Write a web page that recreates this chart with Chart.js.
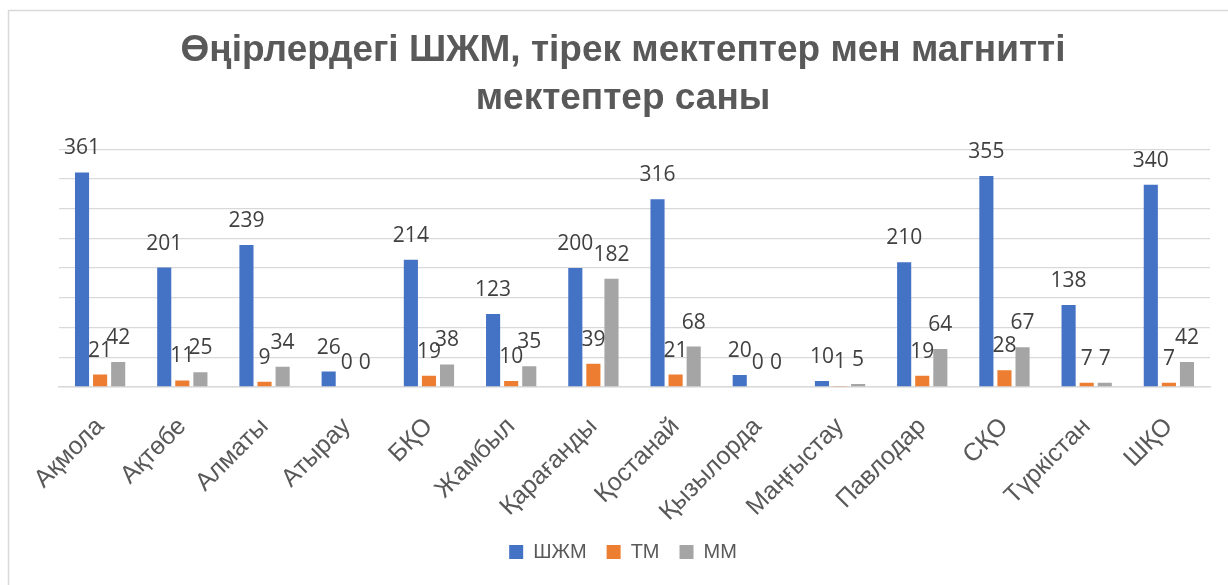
<!DOCTYPE html>
<html>
<head>
<meta charset="utf-8">
<script src="https://cdn.jsdelivr.net/npm/chart.js@4.4.1/dist/chart.umd.min.js"></script>
<style>
  html, body { margin: 0; padding: 0; background: #fff; }
  #wrap { width: 1228px; height: 585px; }
</style>
</head>
<body>
<div id="wrap"><canvas id="chart" width="1228" height="585"></canvas></div>
<script>
// регион аттары
const regions = ["Ақмола", "Ақтөбе", "Алматы", "Атырау", "БҚО", "Жамбыл", "Қарағанды",
  "Қостанай", "Қызылорда", "Маңғыстау", "Павлодар", "СҚО", "Түркістан", "ШҚО"];

const shzhm = [361, 201, 239, 26, 214, 123, 200, 316, 20, 10, 210, 355, 138, 340];
const tm = [21, 11, 9, 0, 19, 10, 39, 21, 0, 1, 19, 28, 7, 7];
const mm = [42, 25, 34, 0, 38, 35, 182, 68, 0, 5, 64, 67, 7, 42];

const seriesNames = ["ШЖМ", "ТМ", "ММ"];
const titleLines = ["Өңірлердегі ШЖМ, тірек мектептер мен магнитті", "мектептер саны"];

// сыртқы жиек
const framePlugin = {
  id: "frame",
  beforeDraw(chart) {
    const ctx = chart.ctx;
    ctx.save();
    ctx.fillStyle = "#fff";
    ctx.fillRect(0, 0, chart.width, chart.height);
    ctx.strokeStyle = "#d9d9d9";
    ctx.lineWidth = 1.5;
    ctx.strokeRect(8.5, 10.5, 1260, 620);
    ctx.restore();
  }
};

// бағандардың үстіндегі сандар
const valueLabels = {
  id: "valueLabels",
  afterDatasetsDraw(chart) {
    const ctx = chart.ctx;
    ctx.save();
    ctx.font = '21px "Open Sans"';
    ctx.fillStyle = "#404040";
    ctx.textAlign = "center";
    ctx.textBaseline = "alphabetic";
    chart.data.datasets.forEach((ds, i) => {
      chart.getDatasetMeta(i).data.forEach((bar, j) => {
        ctx.fillText(String(ds.data[j]), bar.x, bar.y - 18);
      });
    });
    ctx.restore();
  }
};

new Chart(document.getElementById("chart"), {
  type: "bar",
  data: {
    labels: regions,
    datasets: [
      { label: seriesNames[0], data: shzhm, backgroundColor: "#4472C4" },
      { label: seriesNames[1], data: tm, backgroundColor: "#ED7D31" },
      { label: seriesNames[2], data: mm, backgroundColor: "#A5A5A5" },
    ],
  },
  options: {
    responsive: false,
    animation: false,
    devicePixelRatio: 1,
    layout: { padding: { left: 36, right: 18, top: 12, bottom: 13 } },
    datasets: { bar: { categoryPercentage: 0.66, barPercentage: 0.78 } },
    scales: {
      x: {
        grid: { display: false },
        border: { display: true, color: "#d9d9d9", width: 1.5 },
        ticks: {
          color: "#595959",
          font: { family: "Liberation Sans", size: 25 },
          minRotation: 45,
          maxRotation: 45,
          autoSkip: false,
          padding: 17,
        },
        afterFit(scale) { scale.height = 135; },
      },
      y: {
        min: 0,
        max: 400,
        ticks: { stepSize: 50, display: false },
        grid: { color: "#d9d9d9", lineWidth: 1.3, drawTicks: false },
        border: { display: false },
        afterFit(scale) { scale.width = 23; },
      },
    },
    plugins: {
      title: {
        display: true,
        text: titleLines,
        color: "#595959",
        font: { family: "Liberation Sans", size: 37, weight: "bold", lineHeight: 1.3 },
        padding: { top: 15, bottom: 26 },
      },
      legend: {
        position: "bottom",
        labels: {
          color: "#595959",
          font: { family: "Liberation Sans", size: 20 },
          boxWidth: 14,
          boxHeight: 14,
          padding: 20,
        },
      },
      tooltip: { enabled: false },
    },
  },
  plugins: [framePlugin, valueLabels],
});
</script>
</body>
</html>
